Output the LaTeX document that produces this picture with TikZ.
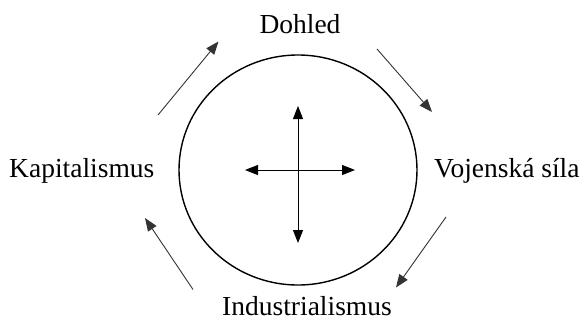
\documentclass[tikz,border=0pt]{standalone}
\usepackage{fontspec}
\setmainfont{Liberation Serif}
\usetikzlibrary{arrows.meta,shapes.geometric}
\begin{document}
\begin{tikzpicture}[x=1pt,y=-1pt,
  lbl/.style={font=\fontsize{27.5}{33}\selectfont, inner sep=0pt, anchor=base},
  cyc/.style={-{Triangle[length=13pt,width=10pt]}, line width=0.9pt, draw=black!80},
  crs/.style={{Triangle[length=13pt,width=10pt]}-{Triangle[length=13pt,width=10pt]}, line width=1pt},
  ring/.style={draw, ellipse, line width=1.4pt, inner sep=0pt, minimum width=238pt, minimum height=230pt}]
\useasboundingbox (0,0) rectangle (585,322);
% texts
\node[lbl] (dohled) at (300,33) {Dohled};
\node[lbl] (ind) at (307,315.5) {Industrialismus};
\node[lbl, anchor=base west] (kap) at (9,177) {Kapitalismus};
\node[lbl, anchor=base west] (voj) at (434,177) {Vojenská síla};
% ring
\node[ring] (c) at (298,170) {};
% cross
\coordinate (cl) at (245,170);
\coordinate (cr) at (355,170);
\coordinate (ct) at (298,106);
\coordinate (cb) at (298,243);
\draw[crs] (cl) -- (cr);
\draw[crs] (ct) -- (cb);
% cycle arrows
\coordinate (a1s) at (158,115);
\coordinate (a1e) at (218.5,41.5);
\coordinate (a2s) at (377,49);
\coordinate (a2e) at (432,112);
\coordinate (a3s) at (446,217);
\coordinate (a3e) at (396,287.5);
\coordinate (a4s) at (193,289.5);
\coordinate (a4e) at (145,218);
\draw[cyc] (a1s) -- (a1e);
\draw[cyc] (a2s) -- (a2e);
\draw[cyc] (a3s) -- (a3e);
\draw[cyc] (a4s) -- (a4e);
\end{tikzpicture}
\end{document}
